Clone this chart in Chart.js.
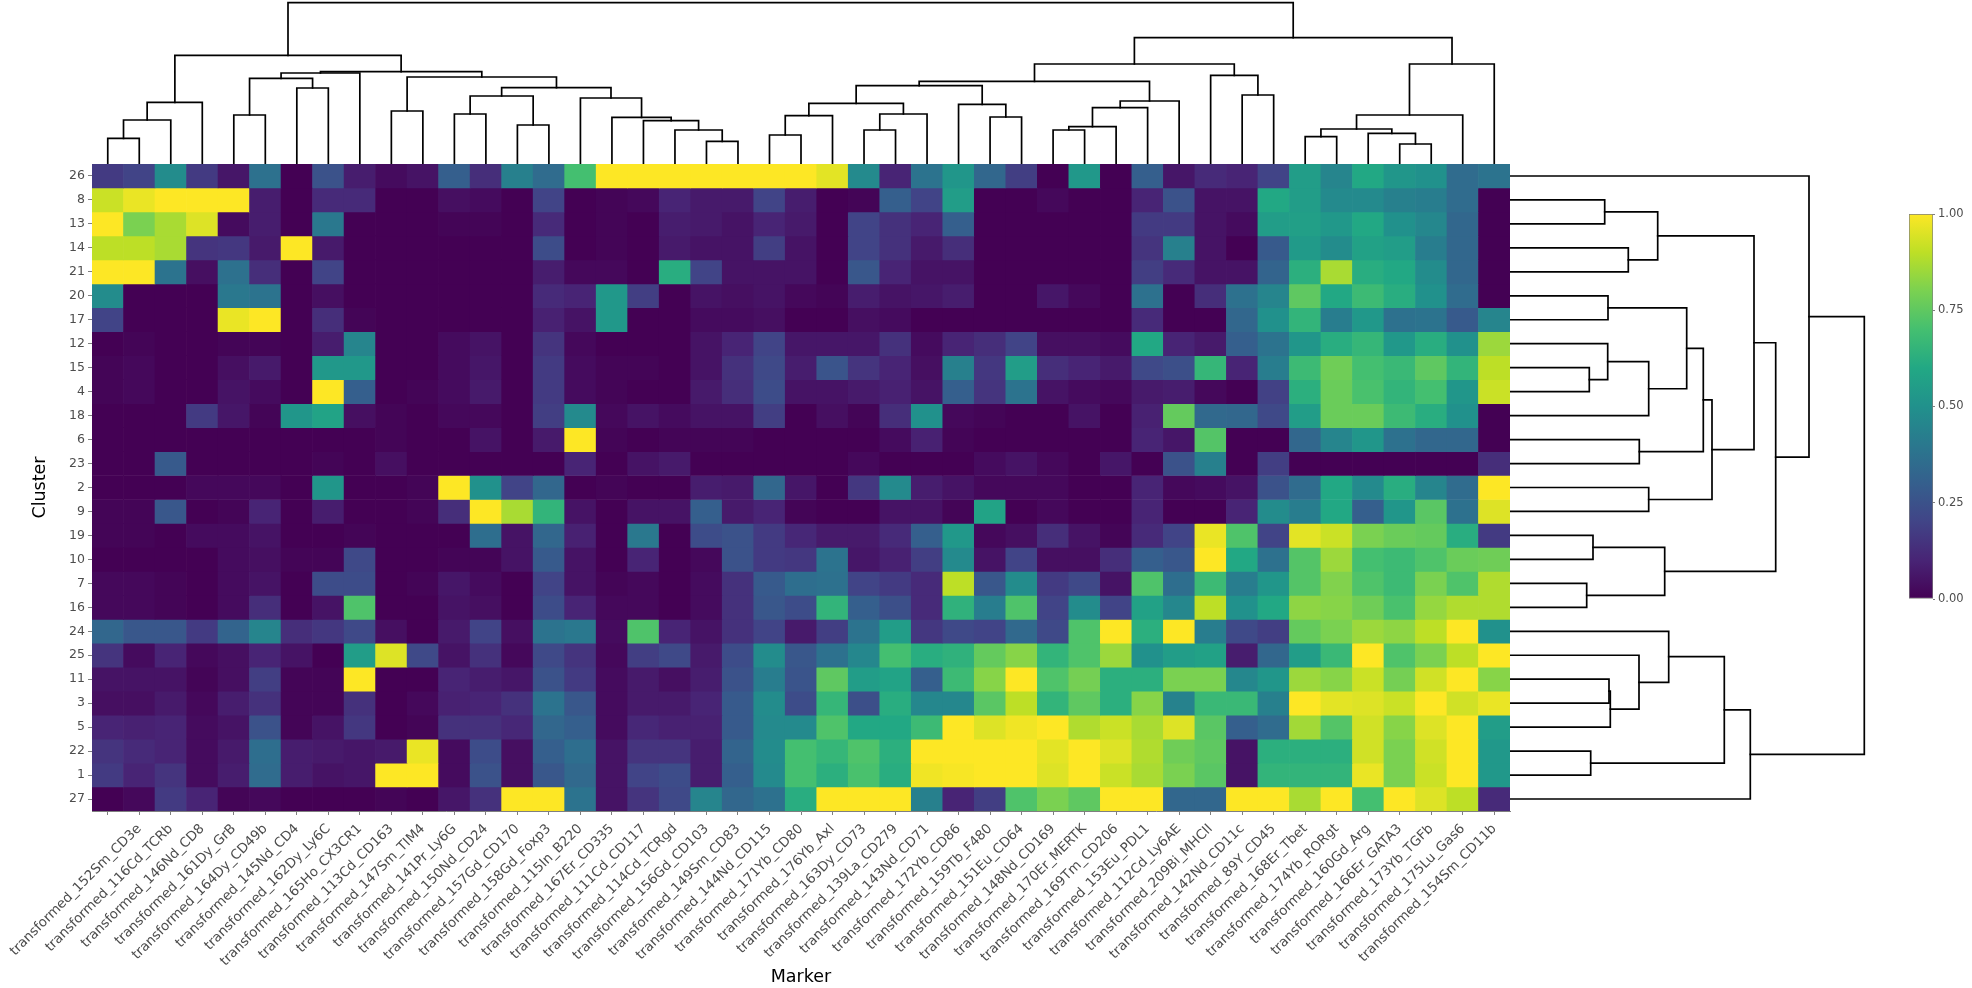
<!DOCTYPE html>
<html>
<head>
<meta charset="utf-8">
<title>Cluster heatmap</title>
<script src="https://cdn.jsdelivr.net/npm/chart.js@4"></script>
<style>
    body { margin: 0; background: #fff; overflow: hidden; }
    canvas { position: absolute; }
</style>
</head>
<body>
<canvas id="heat" width="1972" height="988" style="left:0;top:0"></canvas>
<canvas id="topTree" width="1418" height="164" style="left:92px;top:0"></canvas>
<canvas id="sideTree" width="362" height="647" style="left:1510px;top:164px"></canvas>
<canvas id="colorbar" width="72" height="405" style="left:1900px;top:204px"></canvas>
<script>
// The first column carries no label in the original figure
const markers = ['',
    'transformed_152Sm_CD3e', 'transformed_116Cd_TCRb', 'transformed_146Nd_CD8', 'transformed_161Dy_GrB',
    'transformed_164Dy_CD49b', 'transformed_145Nd_CD4', 'transformed_162Dy_Ly6C', 'transformed_165Ho_CX3CR1',
    'transformed_113Cd_CD163', 'transformed_147Sm_TIM4', 'transformed_141Pr_Ly6G', 'transformed_150Nd_CD24',
    'transformed_157Gd_CD170', 'transformed_158Gd_Foxp3', 'transformed_115In_B220', 'transformed_167Er_CD335',
    'transformed_111Cd_CD117', 'transformed_114Cd_TCRgd', 'transformed_156Gd_CD103', 'transformed_149Sm_CD83',
    'transformed_144Nd_CD115', 'transformed_171Yb_CD80', 'transformed_176Yb_Axl', 'transformed_163Dy_CD73',
    'transformed_139La_CD279', 'transformed_143Nd_CD71', 'transformed_172Yb_CD86', 'transformed_159Tb_F480',
    'transformed_151Eu_CD64', 'transformed_148Nd_CD169', 'transformed_170Er_MERTK', 'transformed_169Tm_CD206',
    'transformed_153Eu_PDL1', 'transformed_112Cd_Ly6AE', 'transformed_209Bi_MHCII', 'transformed_142Nd_CD11c',
    'transformed_89Y_CD45', 'transformed_168Er_Tbet', 'transformed_174Yb_RORgt', 'transformed_160Gd_Arg',
    'transformed_166Er_GATA3', 'transformed_173Yb_TGFb', 'transformed_175Lu_Gas6', 'transformed_154Sm_CD11b'
];

const clusters = ['26', '8', '13', '14', '21', '20', '17', '12', '15', '4', '18', '6', '23', '2', '9',
    '19', '10', '7', '16', '24', '25', '11', '3', '5', '22', '1', '27'];

// One row per cluster, same order as clusters
const expression = [
    [.17,.2,.48,.17,.06,.37,0,.25,.08,.03,.05,.3,.13,.43,.35,.7,1,1,1,1,1,1,1,.96,.47,.1,.38,.52,.33,.18,0,.53,0,.3,.06,.12,.1,.2,.55,.45,.6,.52,.5,.35,.38],
    [.92,.97,1,1,1,.08,0,.12,.12,0,0,.04,.03,0,.2,0,.01,.02,.1,.07,.07,.2,.08,0,.01,.3,.2,.55,0,0,.02,0,0,.1,.25,.05,.05,.6,.55,.47,.47,.43,.42,.35,0],
    [1,.8,.87,.95,.03,.08,0,.4,0,0,0,.01,.01,0,.12,0,.01,0,.08,.07,.05,.1,.07,0,.2,.14,.1,.3,0,0,0,0,0,.17,.17,.05,.03,.55,.56,.53,.6,.5,.46,.33,0],
    [.9,.9,.87,.15,.16,.07,1,.07,0,0,0,0,0,0,.23,0,.01,0,.07,.05,.05,.18,.05,0,.2,.14,.07,.13,0,0,0,0,0,.15,.43,.05,0,.28,.54,.48,.57,.55,.42,.33,0],
    [1,1,.38,.04,.37,.13,0,.2,0,0,0,0,0,0,.08,.02,.02,0,.62,.2,.05,.05,.05,0,.27,.1,.05,.05,0,0,0,0,0,.18,.12,.05,.05,.32,.63,.87,.62,.6,.48,.33,0],
    [.48,0,0,0,.4,.38,0,.04,0,0,0,0,0,0,.12,.1,.53,.18,0,.05,.04,.05,.02,.01,.08,.05,.06,.08,0,0,.06,.02,0,.37,0,.13,.37,.45,.75,.6,.68,.62,.5,.35,0],
    [.2,0,0,0,.97,1,0,.13,.01,0,0,0,0,0,.09,.05,.53,0,0,.03,.03,.04,0,0,.04,.03,0,0,0,0,0,0,0,.12,0,0,.33,.5,.65,.42,.53,.37,.38,.28,.45],
    [0,.01,0,0,.01,.01,0,.08,.45,0,0,.03,.05,0,.15,.02,0,0,0,.05,.1,.2,.06,.06,.06,.14,.03,.1,.13,.2,.04,.04,.03,.6,.1,.07,.3,.38,.52,.62,.66,.53,.62,.5,.85],
    [.01,.02,0,0,.04,.07,0,.53,.53,0,0,.03,.06,0,.17,.03,.01,.01,0,.05,.14,.22,.08,.26,.15,.1,.04,.43,.16,.55,.13,.1,.07,.22,.24,.66,.1,.42,.68,.78,.7,.67,.75,.65,.9],
    [.01,.02,0,0,.05,.03,0,1,.3,0,.01,.03,.07,0,.17,.03,.01,0,0,.07,.13,.23,.05,.05,.07,.09,.05,.3,.15,.38,.05,.03,.02,.07,.08,.02,0,.19,.63,.77,.71,.65,.7,.52,.92],
    [0,0,0,.17,.06,.01,.52,.58,.04,.01,0,.02,.02,0,.18,.47,.02,.05,.03,.05,.05,.18,0,.04,.01,.13,.5,.02,.01,0,0,.05,0,.09,.76,.34,.33,.22,.55,.77,.77,.68,.62,.5,0],
    [0,0,0,0,0,0,0,0,0,.01,0,0,.05,0,.07,1,.01,0,.01,.01,.01,0,0,0,0,.03,.09,.01,0,0,0,0,0,.1,.06,.73,0,0,.33,.45,.52,.37,.33,.33,0],
    [0,0,.28,0,0,0,0,.01,0,.04,0,0,0,0,0,.1,0,.05,.07,0,0,0,0,0,.02,0,0,0,.03,.05,.02,0,.06,0,.25,.43,0,.18,0,0,0,0,0,0,.13],
    [0,0,0,.02,.02,.02,0,.52,0,0,.01,1,.5,.2,.33,0,.01,0,0,.08,.07,.33,.06,0,.16,.47,.08,.05,.02,.02,.02,0,0,.1,.02,.03,.05,.25,.35,.6,.47,.62,.45,.35,1],
    [.01,.01,.27,0,.01,.1,0,.08,0,0,.01,.13,1,.87,.65,.05,0,.05,.05,.3,.07,.1,.01,0,0,.05,.05,.01,.58,0,.02,0,0,.1,0,0,.1,.48,.42,.6,.3,.52,.74,.37,.95],
    [.01,.01,0,.03,.03,.05,0,0,.01,0,0,0,.36,.05,.33,.09,0,.4,0,.23,.25,.17,.11,.07,.07,.12,.3,.53,.02,.04,.13,.05,.01,.12,.2,.97,.72,.2,.96,.92,.8,.77,.76,.62,.17],
    [0,0,0,0,.03,.04,.01,.01,.22,0,0,.01,.01,.05,.28,.05,0,.1,0,.02,.25,.17,.16,.38,.06,.09,.18,.47,.05,.2,.04,.04,.13,.3,.27,1,.6,.37,.73,.85,.7,.68,.72,.77,.78],
    [.02,.02,.01,0,.03,.05,0,.23,.23,0,.01,.06,.03,0,.2,.05,.01,.02,0,.03,.14,.28,.36,.37,.2,.17,.12,.9,.27,.48,.17,.22,.05,.72,.36,.68,.42,.52,.73,.81,.72,.68,.8,.72,.88],
    [.02,.02,.01,0,.03,.13,0,.05,.72,0,0,.05,.04,0,.23,.1,.02,.02,0,.03,.14,.27,.23,.65,.3,.24,.12,.64,.42,.72,.2,.48,.2,.57,.46,.9,.5,.6,.83,.82,.78,.71,.84,.88,.88],
    [.33,.27,.27,.17,.32,.45,.13,.16,.22,.04,0,.07,.2,.04,.38,.4,.03,.72,.1,.05,.14,.2,.07,.18,.38,.55,.16,.22,.2,.34,.22,.72,1,.63,1,.42,.22,.18,.76,.8,.85,.83,.9,1,.5],
    [.15,.03,.1,.02,.04,.1,.05,0,.55,.95,.22,.05,.14,.02,.22,.15,.02,.18,.22,.07,.23,.48,.27,.37,.46,.7,.62,.64,.76,.82,.65,.72,.85,.5,.55,.57,.08,.33,.55,.67,1,.72,.8,.9,1],
    [.05,.05,.05,.01,.04,.18,.01,.01,1,0,0,.1,.08,.06,.25,.17,.03,.07,.04,.08,.25,.42,.26,.75,.55,.58,.3,.68,.82,1,.72,.79,.63,.63,.8,.8,.46,.52,.85,.82,.92,.79,.93,1,.82],
    [.04,.04,.07,.02,.08,.14,.01,.01,.14,0,.02,.09,.1,.14,.38,.27,.03,.07,.07,.1,.28,.48,.23,.66,.24,.62,.46,.46,.74,.9,.65,.75,.63,.82,.44,.67,.67,.43,1,.96,.95,.92,1,.93,.97],
    [.1,.09,.1,.03,.05,.25,.01,.05,.16,0,.01,.14,.14,.11,.33,.3,.03,.11,.09,.09,.28,.47,.47,.72,.6,.6,.68,1,.95,.98,1,.88,.92,.87,.95,.74,.3,.35,.86,.73,.93,.82,.95,1,.55],
    [.15,.12,.1,.03,.07,.36,.08,.07,.06,.07,.97,.03,.23,.04,.3,.36,.05,.15,.15,.08,.32,.48,.7,.66,.72,.63,1,1,1,1,.96,1,.95,.88,.78,.75,.05,.63,.63,.63,.93,.8,.93,1,.53],
    [.17,.1,.15,.03,.08,.35,.08,.05,.06,1,1,.03,.25,.04,.27,.34,.05,.2,.23,.08,.3,.47,.7,.63,.71,.62,.98,.99,1,1,.95,1,.92,.87,.8,.74,.05,.65,.65,.65,.97,.8,.92,1,.53],
    [0,.02,.17,.1,.01,.02,0,0,0,.01,0,.06,.14,1,1,.38,.05,.15,.22,.45,.33,.37,.62,1,1,1,.43,.1,.18,.72,.8,.75,1,1,.33,.33,1,1,.87,1,.7,1,.95,.9,.12]
];

// Dendrogram merges: [left position, left height, right position, right height, merge height]
const markerLinks = [
    [0, 0, 1, 0, 25.7], [.5, 25.7, 2, 0, 44], [1.25, 44, 3, 0, 61.7],
    [4, 0, 5, 0, 49], [6, 0, 7, 0, 76], [4.5, 49, 6.5, 76, 85.7], [5.5, 85.7, 8, 0, 91],
    [9, 0, 10, 0, 53], [11, 0, 12, 0, 50], [13, 0, 14, 0, 39], [11.5, 50, 13.5, 39, 68],
    [19, 0, 20, 0, 22.7], [18, 0, 19.5, 22.7, 34], [17, 0, 18.75, 34, 43.3], [16, 0, 17.88, 43.3, 46.7],
    [15, 0, 16.94, 46.7, 66], [12.5, 68, 15.97, 66, 76.3], [9.5, 53, 14.24, 76.3, 87],
    [6.75, 91, 11.87, 87, 92.3], [2.13, 61.7, 9.31, 92.3, 108.7],
    [21, 0, 22, 0, 29], [21.5, 29, 23, 0, 48.3], [24, 0, 25, 0, 34], [24.5, 34, 26, 0, 50],
    [22.25, 48.3, 25.25, 50, 60.7], [28, 0, 29, 0, 47], [27, 0, 28.5, 47, 59.7],
    [23.75, 60.7, 27.75, 59.7, 78.3], [30, 0, 31, 0, 34], [30.5, 34, 32, 0, 37.3],
    [31.25, 37.3, 33, 0, 56.3], [32.13, 56.3, 34, 0, 63], [25.75, 78.3, 33.06, 63, 82.7],
    [36, 0, 37, 0, 69], [35, 0, 36.5, 69, 88.7], [29.41, 82.7, 35.75, 88.7, 100],
    [38, 0, 39, 0, 27.3], [41, 0, 42, 0, 20], [40, 0, 41.5, 20, 30.7], [38.5, 27.3, 40.75, 30.7, 35],
    [39.63, 35, 43, 0, 49], [41.31, 49, 44, 0, 100], [32.58, 100, 42.66, 100, 126.3],
    [5.72, 108.7, 37.62, 126.3, 161.3]
];

const clusterLinks = [
    [1, 0, 2, 0, 94.7], [3, 0, 4, 0, 118.3], [1.5, 94.7, 3.5, 118.3, 147.7],
    [5, 0, 6, 0, 98], [8, 0, 9, 0, 79.3], [7, 0, 8.5, 79.3, 97.7], [7.75, 97.7, 10, 0, 138.7],
    [5.5, 98, 8.88, 138.7, 176.7], [11, 0, 12, 0, 129.3], [7.19, 176.7, 11.5, 129.3, 193.3],
    [13, 0, 14, 0, 138.7], [9.34, 193.3, 13.5, 138.7, 202], [2.5, 147.7, 11.42, 202, 244],
    [15, 0, 16, 0, 83], [17, 0, 18, 0, 76.7], [15.5, 83, 17.5, 76.7, 154.7],
    [6.96, 244, 16.5, 154.7, 265.7], [21, 0, 22, 0, 99], [21.5, 99, 23, 0, 100.3],
    [20, 0, 22.25, 100.3, 129], [19, 0, 21.13, 129, 158.7], [24, 0, 25, 0, 80.7],
    [20.06, 158.7, 24.5, 80.7, 214.3], [22.28, 214.3, 26, 0, 240.3],
    [0, 0, 11.73, 265.7, 299], [5.87, 299, 24.14, 240.3, 354.3]
];

const colorbarTicks = [0, 0.25, 0.5, 0.75, 1];

const viridis = ['#440154', '#482475', '#414487', '#355f8d', '#2a788e', '#21918c',
    '#22a884', '#44bf70', '#7ad151', '#bddf26', '#fde725'];

Chart.defaults.animation = false;
Chart.defaults.responsive = false;
Chart.defaults.font.family = '"DejaVu Sans", sans-serif';
Chart.defaults.plugins.legend.display = false;
Chart.defaults.plugins.tooltip.enabled = false;

const axisGrey = '#7f7f7f';
const labelGrey = '#4d4d4d';

// Map 0..1 onto the viridis stops
function colorFor(v) {
    const pos = v * (viridis.length - 1);
    const i = Math.min(Math.floor(pos), viridis.length - 2);
    const t = pos - i;
    const a = parseInt(viridis[i].slice(1), 16);
    const b = parseInt(viridis[i + 1].slice(1), 16);
    const mix = shift => Math.round(((a >> shift) & 255) * (1 - t) + ((b >> shift) & 255) * t);
    return `rgb(${mix(16)},${mix(8)},${mix(0)})`;
}

// Heatmap: every cluster is a dataset of floating bars, one bar per marker
new Chart(document.getElementById('heat'), {
    type: 'bar',
    data: {
        labels: markers,
        datasets: clusters.map((name, r) => ({
            label: name,
            data: markers.map(() => [r - 0.5, r + 0.5]),
            backgroundColor: expression[r].map(colorFor),
            grouped: false,
            barPercentage: 1,
            categoryPercentage: 1
        }))
    },
    options: {
        layout: { padding: { top: 164, right: 462 } },
        scales: {
            x: {
                afterFit: scale => { scale.height = 177; },
                grid: { drawOnChartArea: false, offset: false, tickLength: 4, tickColor: axisGrey },
                border: { color: axisGrey },
                ticks: {
                    autoSkip: false, minRotation: 45, maxRotation: 45, padding: 6,
                    color: labelGrey, font: { size: 13.4 }
                },
                title: {
                    display: true, text: 'Marker', color: '#000',
                    font: { size: 17.5 }, padding: { top: 0, bottom: 0 }
                }
            },
            y: {
                min: -0.5,
                max: 26.5,
                reverse: true,
                afterFit: scale => { scale.width = 92; },
                afterBuildTicks: scale => { scale.ticks = clusters.map((_, i) => ({ value: i })); },
                grid: { drawOnChartArea: false, tickLength: 4, tickColor: axisGrey },
                border: { color: axisGrey },
                ticks: {
                    autoSkip: false, padding: 3, color: labelGrey, font: { size: 12.5 },
                    callback: value => clusters[value]
                },
                title: {
                    display: true, text: 'Cluster', color: '#000',
                    font: { size: 17.5 }, padding: { top: 30, bottom: 0 }
                }
            }
        }
    }
});

// Both trees are plain line datasets, one dataset per merge
function treeChart(id, links, toPoint, xScale, yScale) {
    return new Chart(document.getElementById(id), {
        type: 'scatter',
        data: {
            datasets: links.map(([a, ha, b, hb, top]) => ({
                data: [toPoint(a, ha), toPoint(a, top), toPoint(b, top), toPoint(b, hb)],
                showLine: true,
                borderColor: '#000',
                borderWidth: 1.7,
                borderCapStyle: 'square',
                borderJoinStyle: 'miter',
                pointRadius: 0,
                clip: false
            }))
        },
        options: { scales: { x: xScale, y: yScale } }
    });
}

treeChart('topTree', markerLinks, (p, h) => ({ x: p, y: h }),
    { type: 'linear', display: false, min: -0.5, max: 44.5 },
    { type: 'linear', display: false, min: 0, max: 164 });

treeChart('sideTree', clusterLinks, (p, h) => ({ x: h, y: p }),
    { type: 'linear', display: false, min: 0, max: 362 },
    { type: 'linear', display: false, min: -0.5, max: 26.5, reverse: true });

// Colour bar: a single floating bar filled with the viridis ramp
new Chart(document.getElementById('colorbar'), {
    type: 'bar',
    data: {
        labels: [''],
        datasets: [{
            data: [[0, 1]],
            barPercentage: 1,
            categoryPercentage: 1,
            borderWidth: 1,
            borderColor: axisGrey,
            borderSkipped: false,
            backgroundColor: ctx => {
                const area = ctx.chart.chartArea;
                if (!area) return viridis[0];
                const g = ctx.chart.ctx.createLinearGradient(0, area.bottom, 0, area.top);
                viridis.forEach((c, i) => g.addColorStop(i / (viridis.length - 1), c));
                return g;
            }
        }]
    },
    options: {
        layout: { padding: { left: 9, top: 10, bottom: 10 } },
        scales: {
            x: { display: false },
            y: {
                position: 'right',
                min: 0,
                max: 1,
                afterFit: scale => { scale.width = 39; },
                afterBuildTicks: scale => { scale.ticks = colorbarTicks.map(v => ({ value: v })); },
                grid: { drawOnChartArea: false, tickLength: 2, tickColor: axisGrey },
                border: { display: false },
                ticks: {
                    padding: 3, color: labelGrey, font: { size: 11.5 },
                    callback: value => value.toFixed(2)
                }
            }
        }
    }
});
</script>
</body>
</html>
